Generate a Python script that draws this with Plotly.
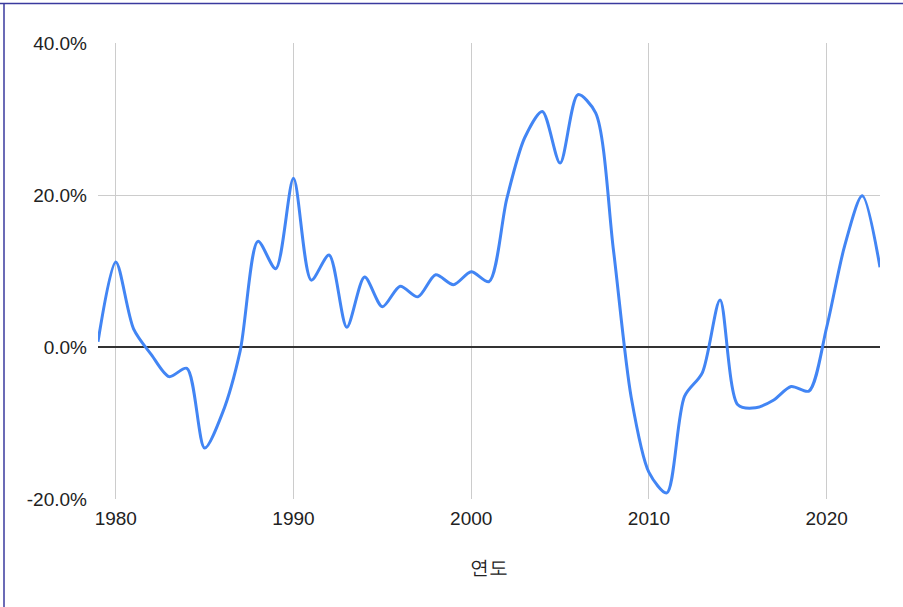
import plotly.graph_objects as go

# Yearly growth rate (%) by year
years = list(range(1979, 2024))
rates = [
    0.7, 11.2, 2.4, -1.0, -3.9, -2.8, -13.3, -8.7, -0.5, 13.9,
    10.3, 22.2, 8.8, 12.1, 2.6, 9.2, 5.3, 8.0, 6.6, 9.5,
    8.2, 9.9, 8.6, 19.5, 27.5, 31.0, 24.2, 33.2, 30.8, 12.8,
    -6.6, -16.5, -19.2, -6.5, -3.4, 6.2, -7.6, -8.0, -7.0, -5.2,
    -5.8, 2.6, 13.2, 19.9, 10.5,
]
x_ticks = [1980, 1990, 2000, 2010, 2020]
y_ticks = [-20, 0, 20, 40]
y_tick_text = ["-20.0%", "0.0%", "20.0%", "40.0%"]

W, H = 903, 607
L, R, T, B = 98, 23, 43, 108
pw, ph = W - L - R, H - T - B

fig = go.Figure()
fig.add_trace(go.Scatter(
    x=years, y=rates, mode="lines",
    line=dict(color="#4285F4", width=3, shape="spline", smoothing=0.8),
    hoverinfo="x+y",
))

font = "Arial, 'Liberation Sans', sans-serif"
fig.update_layout(
    width=W, height=H,
    margin=dict(l=L, r=R, t=T, b=B),
    paper_bgcolor="white", plot_bgcolor="white",
    showlegend=False,
    font=dict(family=font, size=19, color="#222222"),
    xaxis=dict(
        range=[1979, 2023], tickvals=x_ticks, showgrid=True,
        gridcolor="#cccccc", gridwidth=1, zeroline=False, showline=False,
        ticks="", ticklabelstandoff=6,
        tickfont=dict(size=19, color="#222222"),
        title=dict(text="연도", font=dict(size=19, color="#222222"), standoff=32),
    ),
    yaxis=dict(
        range=[-20, 40], tickvals=y_ticks, ticktext=y_tick_text, showgrid=True,
        gridcolor="#cccccc", gridwidth=1, zeroline=True, zerolinecolor="#333333",
        zerolinewidth=1.5, showline=False, ticks="", ticklabelstandoff=10,
        tickfont=dict(size=19, color="#222222"),
    ),
)

# thin frame along the top and left edges of the page
def px_x(p):
    return (p - L) / pw

def px_y(p):
    return (H - B - p) / ph

frame = dict(color="#3a3a9e", width=1.5)
fig.add_shape(type="line", xref="paper", yref="paper",
              x0=px_x(0), x1=px_x(W), y0=px_y(3.5), y1=px_y(3.5), line=frame)
fig.add_shape(type="line", xref="paper", yref="paper",
              x0=px_x(4), x1=px_x(4), y0=px_y(3.5), y1=px_y(H), line=frame)

fig.write_html("out.html")
